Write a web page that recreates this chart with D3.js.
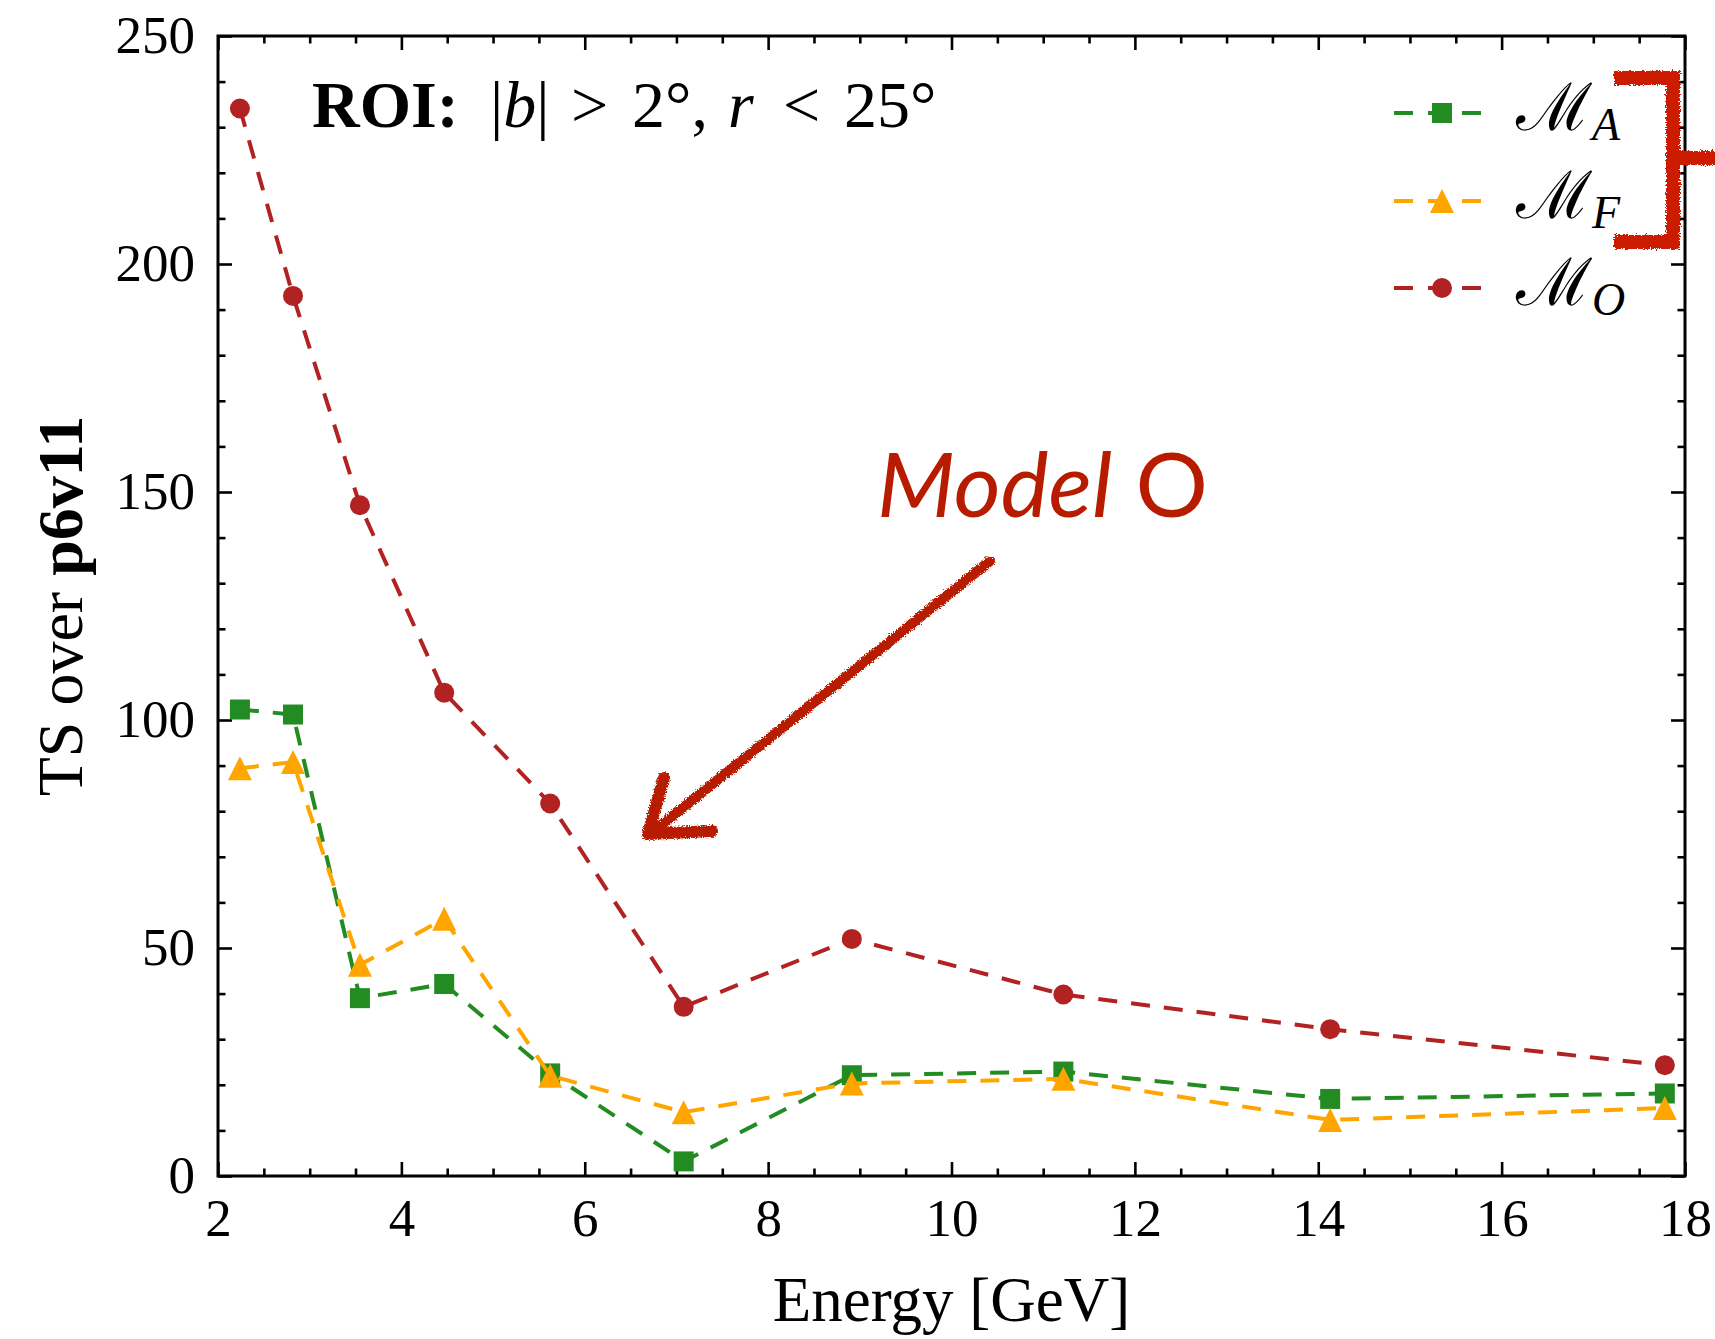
<!DOCTYPE html>
<html>
<head>
<meta charset="utf-8">
<script src="https://cdn.jsdelivr.net/npm/d3@7"></script>
<style>
  html, body { margin: 0; padding: 0; background: #ffffff; }
  svg { display: block; }
</style>
</head>
<body>
<svg id="chart" width="1715" height="1339"></svg>
<script>
// Energy bin centres [GeV]
const energy = [2.239, 2.818, 3.548, 4.467, 5.623, 7.079, 8.913, 11.22, 14.13, 17.78];

// TS improvement over p6v11 for each model
const tsModelA = [102.3, 101.2, 39.0, 42.1, 22.5, 3.2, 22.1, 22.9, 16.9, 18.1];
const tsModelF = [89.4, 90.8, 46.3, 56.4, 22.0, 14.0, 20.3, 21.3, 12.3, 14.9];
const tsModelO = [234.1, 193.0, 147.1, 106.0, 81.7, 37.1, 52.0, 39.8, 32.2, 24.3];

// Axis ticks
const xMajorTicks = [2, 4, 6, 8, 10, 12, 14, 16, 18];
const xMinorTicks = [2.5, 3, 3.5, 4.5, 5, 5.5, 6.5, 7, 7.5, 8.5, 9, 9.5, 10.5, 11, 11.5,
                     12.5, 13, 13.5, 14.5, 15, 15.5, 16.5, 17, 17.5];
const yMajorTicks = [0, 50, 100, 150, 200, 250];
const yMinorTicks = [10, 20, 30, 40, 60, 70, 80, 90, 110, 120, 130, 140,
                     160, 170, 180, 190, 210, 220, 230, 240];

// Series: legend subscript, values, colour, marker
const seriesKeys = ["A", "F", "O"];
const seriesColors = ["#228B22", "#FFA500", "#B22222"];
const seriesMarkers = ["square", "triangle", "circle"];
const seriesValues = [tsModelA, tsModelF, tsModelO];

const svg = d3.select("#chart");
const W = 1715, H = 1339;
const plot = { left: 218, right: 1685, top: 36, bottom: 1176 };

svg.append("rect").attr("width", W).attr("height", H).attr("fill", "#ffffff");

const x = d3.scaleLinear().domain([2, 18]).range([plot.left, plot.right]);
const y = d3.scaleLinear().domain([0, 250]).range([plot.bottom, plot.top]);

const serif = "'Liberation Serif', 'Times New Roman', serif";
const tickFont = 53;
const labelFont = 63;

// Hand-drawn look for the annotations
const defs = svg.append("defs");
const rough = defs.append("filter").attr("id", "rough")
  .attr("x", "-20%").attr("y", "-20%").attr("width", "140%").attr("height", "140%");
rough.append("feTurbulence").attr("type", "fractalNoise").attr("baseFrequency", 0.75)
  .attr("numOctaves", 2).attr("seed", 7).attr("result", "noise");
rough.append("feDisplacementMap").attr("in", "SourceGraphic").attr("in2", "noise")
  .attr("scale", 6).attr("xChannelSelector", "R").attr("yChannelSelector", "G");

// ---- Axes (ticks pointing inward on all four sides) ----
function styleAxis(g, showLabels) {
  g.select(".domain").remove();
  g.selectAll(".tick line").attr("stroke", "#000").attr("stroke-width", 2.6);
  g.selectAll(".tick text")
    .attr("fill", "#000")
    .style("font-family", serif)
    .style("font-size", tickFont + "px");
  if (!showLabels) g.selectAll(".tick text").remove();
}

svg.append("g").attr("transform", `translate(0,${plot.bottom})`)
  .call(d3.axisBottom(x).tickValues(xMajorTicks).tickSize(-14).tickPadding(22).tickFormat(d3.format("d")))
  .call(g => styleAxis(g, true));
svg.append("g").attr("transform", `translate(0,${plot.bottom})`)
  .call(d3.axisBottom(x).tickValues(xMinorTicks).tickSize(-7.5).tickFormat(""))
  .call(g => styleAxis(g, false));
svg.append("g").attr("transform", `translate(0,${plot.top})`)
  .call(d3.axisTop(x).tickValues(xMajorTicks).tickSize(-14).tickFormat(""))
  .call(g => styleAxis(g, false));
svg.append("g").attr("transform", `translate(0,${plot.top})`)
  .call(d3.axisTop(x).tickValues(xMinorTicks).tickSize(-7.5).tickFormat(""))
  .call(g => styleAxis(g, false));

svg.append("g").attr("transform", `translate(${plot.left},0)`)
  .call(d3.axisLeft(y).tickValues(yMajorTicks).tickSize(-14).tickPadding(23).tickFormat(d3.format("d")))
  .call(g => styleAxis(g, true));
svg.append("g").attr("transform", `translate(${plot.left},0)`)
  .call(d3.axisLeft(y).tickValues(yMinorTicks).tickSize(-7.5).tickFormat(""))
  .call(g => styleAxis(g, false));
svg.append("g").attr("transform", `translate(${plot.right},0)`)
  .call(d3.axisRight(y).tickValues(yMajorTicks).tickSize(-14).tickFormat(""))
  .call(g => styleAxis(g, false));
svg.append("g").attr("transform", `translate(${plot.right},0)`)
  .call(d3.axisRight(y).tickValues(yMinorTicks).tickSize(-7.5).tickFormat(""))
  .call(g => styleAxis(g, false));

// Frame
svg.append("rect")
  .attr("x", plot.left).attr("y", plot.top)
  .attr("width", plot.right - plot.left).attr("height", plot.bottom - plot.top)
  .attr("fill", "none").attr("stroke", "#000").attr("stroke-width", 3);

// ---- Axis titles ----
svg.append("text")
  .attr("x", (plot.left + plot.right) / 2).attr("y", 1321)
  .attr("text-anchor", "middle")
  .style("font-family", serif).style("font-size", labelFont + "px")
  .text("Energy [GeV]");

const yTitle = svg.append("text")
  .attr("transform", `translate(82,${(plot.top + plot.bottom) / 2}) rotate(-90)`)
  .attr("text-anchor", "middle")
  .style("font-family", serif).style("font-size", "64px");
yTitle.append("tspan").text("TS over ");
yTitle.append("tspan").attr("font-weight", "bold").text("p6v11");

// ---- Series ----
function markerPath(kind) {
  if (kind === "square") return "M-10,-10H10V10H-10Z";
  if (kind === "triangle") return "M0,-12L12,12L-12,12Z";
  return d3.symbol().type(d3.symbolCircle).size(Math.PI * 10 * 10)();
}

const line = d3.line().x(d => x(d[0])).y(d => y(d[1]));

seriesKeys.forEach((key, i) => {
  const pts = energy.map((e, j) => [e, seriesValues[i][j]]);
  const g = svg.append("g").attr("class", "series-" + key);
  g.append("path")
    .datum(pts)
    .attr("d", line)
    .attr("fill", "none")
    .attr("stroke", seriesColors[i])
    .attr("stroke-width", 4)
    .attr("stroke-dasharray", "19,14");
  g.selectAll("path.marker")
    .data(pts)
    .join("path")
    .attr("class", "marker")
    .attr("transform", d => `translate(${x(d[0])},${y(d[1])})`)
    .attr("d", markerPath(seriesMarkers[i]))
    .attr("fill", seriesColors[i]);
});

// ---- Legend ----
const legendRows = [113, 201, 288];
seriesKeys.forEach((key, i) => {
  const g = svg.append("g").attr("transform", `translate(0,${legendRows[i]})`);
  g.append("line")
    .attr("x1", 1394).attr("x2", 1481).attr("y1", 0).attr("y2", 0)
    .attr("stroke", seriesColors[i]).attr("stroke-width", 4)
    .attr("stroke-dasharray", "19,15");
  g.append("path")
    .attr("transform", "translate(1442,0)")
    .attr("d", markerPath(seriesMarkers[i]))
    .attr("fill", seriesColors[i]);
  const t = g.append("text").attr("x", 1516).attr("y", 17);
  t.append("tspan")
    .style("font-family", "'DejaVu Serif', serif").style("font-size", "66px")
    .text("\u2133");
  t.append("tspan")
    .attr("dy", 10)
    .style("font-family", serif).style("font-style", "italic").style("font-size", "46px")
    .text(key);
});

// ---- Region-of-interest label ----
const roi = svg.append("text").attr("y", 127)
  .style("font-family", serif).style("font-size", "66px").attr("fill", "#000");
roi.append("tspan").attr("x", 312).attr("font-weight", "bold").text("ROI:");
roi.append("tspan").attr("x", 490).text("|");
roi.append("tspan").style("font-style", "italic").text("b");
roi.append("tspan").text("|");
roi.append("tspan").attr("x", 571).text(">");
roi.append("tspan").attr("x", 632).text("2°,");
roi.append("tspan").attr("x", 728).style("font-style", "italic").text("r");
roi.append("tspan").attr("x", 783).text("<");
roi.append("tspan").attr("x", 844).text("25°");

// ---- Hand-drawn annotation ----
const annoRed = "#B81C00";
const modelText = svg.append("text")
  .attr("x", 877).attr("y", 517)
  .attr("textLength", 331).attr("lengthAdjust", "spacingAndGlyphs")
  .style("font-family", "Lato, 'Open Sans', sans-serif").style("font-size", "90px")
  .attr("fill", annoRed);
modelText.append("tspan").style("font-style", "italic").text("Model");
modelText.append("tspan").text(" O");

const arrow = svg.append("g").attr("filter", "url(#rough)")
  .attr("fill", "none").attr("stroke", annoRed)
  .attr("stroke-linecap", "round").attr("stroke-linejoin", "round");
arrow.append("path").attr("d", "M990,561 L654,831").attr("stroke-width", 10);
arrow.append("path").attr("d", "M664,778 L648,834 L712,831").attr("stroke-width", 12);

const bracket = svg.append("g").attr("filter", "url(#rough)")
  .attr("fill", "none").attr("stroke", "#CC1A00")
  .attr("stroke-width", 14).attr("stroke-linejoin", "miter");
bracket.append("path").attr("d", "M1614,78 L1673,78 L1673,242 L1614,242");
bracket.append("path").attr("d", "M1673,158 L1720,158");
</script>
</body>
</html>
